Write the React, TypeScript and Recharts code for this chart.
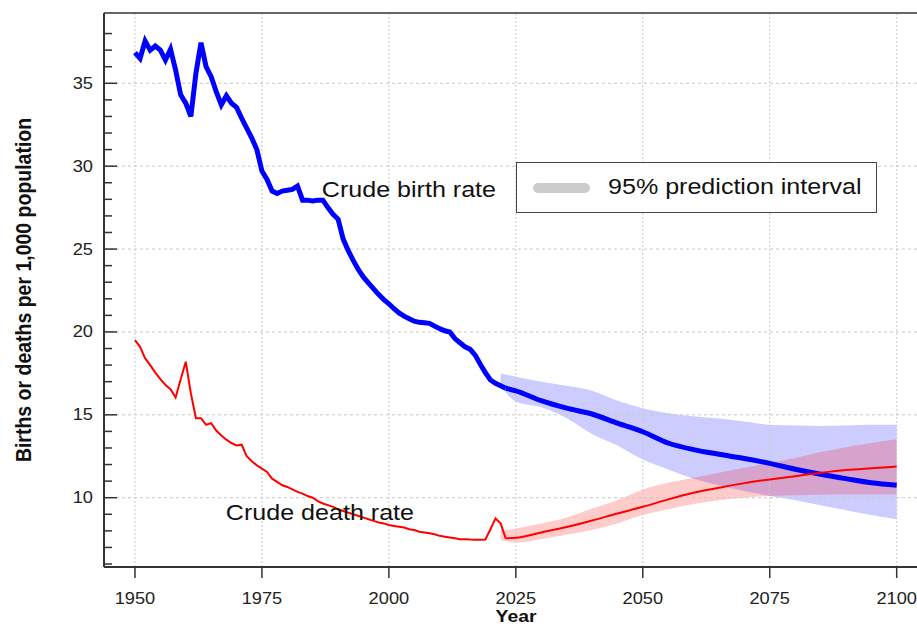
import React from 'react';
import { ComposedChart, Line, Area, XAxis, YAxis, ReferenceLine, ReferenceDot, Legend } from 'recharts';

// historical estimates, one value per year
const HIST_YEARS = [
    1950, 1951, 1952, 1953, 1954, 1955, 1956, 1957, 1958, 1959,
    1960, 1961, 1962, 1963, 1964, 1965, 1966, 1967, 1968, 1969,
    1970, 1971, 1972, 1973, 1974, 1975, 1976, 1977, 1978, 1979,
    1980, 1981, 1982, 1983, 1984, 1985, 1986, 1987, 1988, 1989,
    1990, 1991, 1992, 1993, 1994, 1995, 1996, 1997, 1998, 1999,
    2000, 2001, 2002, 2003, 2004, 2005, 2006, 2007, 2008, 2009,
    2010, 2011, 2012, 2013, 2014, 2015, 2016, 2017, 2018, 2019,
    2020, 2021, 2022, 2023,
];
const BIRTH_HIST = [
    36.85, 36.5, 37.55, 37.0, 37.25, 37.0, 36.4, 37.05, 35.8, 34.3,
    33.8, 33.0, 35.6, 37.45, 36.0, 35.4, 34.5, 33.7, 34.25, 33.8,
    33.55, 32.9, 32.3, 31.7, 31.0, 29.7, 29.2, 28.5, 28.35, 28.5,
    28.55, 28.6, 28.8, 27.95, 27.95, 27.9, 27.95, 27.95, 27.5, 27.1,
    26.8, 25.6, 24.9, 24.3, 23.75, 23.3, 22.95, 22.6, 22.25, 21.95,
    21.7, 21.4, 21.15, 20.95, 20.8, 20.65, 20.58, 20.55, 20.52, 20.35,
    20.2, 20.07, 20.0, 19.6, 19.35, 19.1, 18.95, 18.6, 18.05, 17.55,
    17.1, 16.9, 16.75, 16.6,
];
const DEATH_HIST = [
    19.5, 19.1, 18.4, 18.0, 17.55, 17.15, 16.8, 16.55, 16.05, 17.15,
    18.2, 16.3, 14.8, 14.8, 14.4, 14.5, 14.05, 13.75, 13.5, 13.3,
    13.15, 13.2, 12.5, 12.2, 11.95, 11.75, 11.55, 11.15, 10.95, 10.75,
    10.65, 10.5, 10.35, 10.25, 10.1, 10.0, 9.8, 9.65, 9.55, 9.45,
    9.3, 9.2, 9.1, 9.0, 8.9, 8.8, 8.7, 8.6, 8.5, 8.45,
    8.35, 8.3, 8.25, 8.2, 8.1, 8.05, 7.95, 7.9, 7.85, 7.8,
    7.7, 7.65, 7.6, 7.55, 7.5, 7.5, 7.48, 7.47, 7.47, 7.48,
    8.1, 8.75, 8.45, 7.55,
];

// projections (median)
const PROJ_YEARS = [2023, 2025, 2030, 2035, 2040, 2045, 2050, 2055, 2060, 2065, 2070, 2075, 2080, 2085, 2090, 2095, 2100];
const BIRTH_PROJ = [16.6, 16.45, 15.85, 15.4, 15.05, 14.5, 13.98, 13.3, 12.9, 12.62, 12.37, 12.07, 11.72, 11.42, 11.15, 10.9, 10.75];
const DEATH_PROJ = [7.55, 7.58, 7.9, 8.23, 8.62, 9.05, 9.45, 9.9, 10.3, 10.6, 10.88, 11.1, 11.3, 11.5, 11.67, 11.78, 11.88];

// 95% prediction intervals
const BAND_YEARS = [2022, 2025, 2030, 2035, 2040, 2045, 2050, 2055, 2060, 2065, 2070, 2075, 2080, 2085, 2090, 2095, 2100];
const BIRTH_LO = [16.75, 15.8, 15.45, 14.8, 13.85, 13.15, 12.3, 11.7, 11.15, 10.75, 10.4, 10.1, 9.85, 9.55, 9.25, 8.95, 8.7];
const BIRTH_HI = [17.5, 17.3, 17.0, 16.75, 16.45, 15.85, 15.4, 15.1, 14.92, 14.78, 14.6, 14.4, 14.35, 14.33, 14.35, 14.4, 14.4];
const DEATH_LO = [7.45, 7.3, 7.5, 7.76, 8.05, 8.45, 8.95, 9.3, 9.62, 9.85, 10.0, 10.1, 10.15, 10.18, 10.2, 10.2, 10.2];
const DEATH_HI = [8.0, 8.15, 8.45, 8.8, 9.35, 9.85, 10.5, 10.9, 11.2, 11.5, 11.8, 12.1, 12.4, 12.75, 13.05, 13.3, 13.52];

const X_TICKS = [1950, 1975, 2000, 2025, 2050, 2075, 2100];
const Y_TICKS = [6, 7, 8, 9, 10, 11, 12, 13, 14, 15, 16, 17, 18, 19, 20, 21, 22, 23, 24, 25, 26, 27, 28, 29, 30, 31, 32, 33, 34, 35, 36, 37, 38];
const Y_GRID = [10, 15, 20, 25, 30, 35];

const X_DOMAIN: [number, number] = [1943.9, 2104.0];
const Y_DOMAIN: [number, number] = [5.82, 39.24];

const FONT = '"Liberation Sans", Arial, Helvetica, sans-serif';
const SX = 1.14; // the original's text is a bit wide
const AXIS = '#333';
const GRID = '#c8c8c8';

// merge everything into one table keyed by year
const byYear = new Map<number, any>();
const rowFor = (y: number) => {
    if (!byYear.has(y)) byYear.set(y, { year: y });
    return byYear.get(y);
};
HIST_YEARS.forEach((y, i) => { rowFor(y).birth = BIRTH_HIST[i]; rowFor(y).death = DEATH_HIST[i]; });
PROJ_YEARS.forEach((y, i) => { rowFor(y).birthProj = BIRTH_PROJ[i]; rowFor(y).deathProj = DEATH_PROJ[i]; });
BAND_YEARS.forEach((y, i) => {
    rowFor(y).birthBand = [BIRTH_LO[i], BIRTH_HI[i]];
    rowFor(y).deathBand = [DEATH_LO[i], DEATH_HI[i]];
});
const data = Array.from(byYear.values()).sort((a, b) => a.year - b.year);

const XTick = (p: any) => (
    <text transform={`translate(${p.x},${p.y + 26}) scale(${SX},1)`} textAnchor="middle"
        fontSize={16} fontFamily={FONT} fill="#222">
        {p.payload.value}
    </text>
);

const YTick = (p: any) => {
    const v = p.payload.value;
    const major = v % 5 === 0;
    const ax = p.x + 11;
    return (
        <g>
            <line x1={ax} x2={ax + (major ? 13 : 8)} y1={p.y} y2={p.y} stroke={AXIS} strokeWidth={1.5} />
            {major &&
                <text transform={`translate(${p.x},${p.y + 5.5}) scale(${SX},1)`} textAnchor="end"
                    fontSize={16} fontFamily={FONT} fill="#222">
                    {v}
                </text>}
        </g>
    );
};

const annotation = (text: string) => (props: any) => {
    const { x, y } = props.viewBox;
    return (
        <text transform={`translate(${x},${y}) scale(${SX},1)`} fontSize={22} fontFamily={FONT} fill="#111">
            {text}
        </text>
    );
};

const LegendBox = () => (
    <svg width={361} height={51} style={{ display: 'block' }}>
        <rect x={0.5} y={0.5} width={360} height={50} fill="#fff" stroke="#444" />
        <line x1={22} x2={69} y1={26} y2={26} stroke="#cccccc" strokeWidth={10} strokeLinecap="round" />
        <text transform={`translate(92,32) scale(${SX},1)`} fontSize={22} fontFamily={FONT} fill="#111">
            95% prediction interval
        </text>
    </svg>
);

const App: React.FC = () => {
    return (
        <div style={{ position: 'absolute', left: 0, top: 0 }}>
            <ComposedChart width={917} height={626} data={data} margin={{ top: 12, right: 0, bottom: 0, left: 0 }}>
                <XAxis xAxisId="top" orientation="top" type="number" dataKey="year" domain={X_DOMAIN}
                    allowDataOverflow height={1} tick={false} tickLine={false}
                    axisLine={{ stroke: AXIS, strokeWidth: 1.5 }} />
                <XAxis type="number" dataKey="year" domain={X_DOMAIN} allowDataOverflow ticks={X_TICKS}
                    height={59} tickSize={11} tickMargin={0} tick={<XTick />}
                    tickLine={{ stroke: AXIS, strokeWidth: 1.5 }} axisLine={{ stroke: AXIS, strokeWidth: 2 }}
                    label={() => (
                        <text transform={`translate(516,622) scale(${SX},1)`} textAnchor="middle"
                            fontSize={17} fontWeight="bold" fontFamily={FONT} fill="#111">Year</text>
                    )} />
                <YAxis type="number" domain={Y_DOMAIN} allowDataOverflow ticks={Y_TICKS} width={104}
                    tickSize={0} tickMargin={11} tickLine={false} tick={<YTick />} interval={0}
                    axisLine={{ stroke: AXIS, strokeWidth: 2 }}
                    label={() => (
                        <text transform={`translate(31,290) scale(${SX},1) rotate(-90)`} textAnchor="middle"
                            fontSize={19.5} fontWeight="bold" fontFamily={FONT} fill="#111">
                            Births or deaths per 1,000 population
                        </text>
                    )} />

                {Y_GRID.map(v => (
                    <ReferenceLine key={'h' + v} y={v} stroke={GRID} strokeDasharray="3 3" />
                ))}
                {X_TICKS.map(v => (
                    <ReferenceLine key={'v' + v} x={v} stroke={GRID} strokeDasharray="2 2" />
                ))}

                <Area dataKey="birthBand" type="monotone" stroke="none" fill="#0000ff" fillOpacity={0.2}
                    connectNulls isAnimationActive={false} />
                <Line dataKey="birth" type="linear" stroke="#0000ff" strokeWidth={5} dot={false}
                    connectNulls isAnimationActive={false} />
                <Line dataKey="birthProj" type="monotone" stroke="#0000ff" strokeWidth={5} dot={false}
                    connectNulls isAnimationActive={false} />
                <Area dataKey="deathBand" type="monotone" stroke="none" fill="#ff0000" fillOpacity={0.2}
                    connectNulls isAnimationActive={false} />
                <Line dataKey="death" type="linear" stroke="#ff0000" strokeWidth={2} dot={false}
                    connectNulls isAnimationActive={false} />
                <Line dataKey="deathProj" type="monotone" stroke="#ff0000" strokeWidth={2} dot={false}
                    connectNulls isAnimationActive={false} />

                <ReferenceDot x={1986.8} y={28.14} r={0} stroke="none" label={annotation('Crude birth rate')} />
                <ReferenceDot x={1967.9} y={8.66} r={0} stroke="none" label={annotation('Crude death rate')} />

                <Legend verticalAlign="middle" layout="horizontal" content={() => <LegendBox />}
                    wrapperStyle={{ position: 'absolute', left: 516, top: 162, width: 361, height: 51 }} />
            </ComposedChart>
        </div>
    );
};

export default App;
